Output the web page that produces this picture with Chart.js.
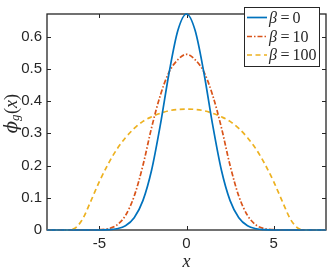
<!DOCTYPE html>
<html><head><meta charset="utf-8">
<style>html,body{margin:0;padding:0;background:#fff;overflow:hidden}#wrap{width:327px;height:273px;position:relative}</style>
<script src="https://cdn.jsdelivr.net/npm/chart.js@4"></script>
</head><body><div id="wrap"><canvas id="c" width="327" height="273"></canvas></div>
<script>
const xValues = [-8,-7.5,-7,-6.5,-6,-5.5,-5,-4.5,-4,-3.5,-3,-2.5,-2,-1.5,-1,-0.5,0,0.5,1,1.5,2,2.5,3,3.5,4,4.5,5,5.5,6,6.5,7,7.5,8];
const beta0 = [0,0,0,0,0,0,0,0.001,0.004,0.013,0.038,0.091,0.186,0.326,0.487,0.618,0.670,0.618,0.487,0.326,0.186,0.091,0.038,0.013,0.004,0.001,0,0,0,0,0,0,0];
const beta10 = [0,0,0,0,0,0,0.001,0.004,0.015,0.045,0.105,0.200,0.318,0.418,0.490,0.528,0.545,0.528,0.490,0.418,0.318,0.200,0.105,0.045,0.015,0.004,0.001,0,0,0,0,0,0];
const beta100 = [0,0,0,0.003,0.030,0.088,0.150,0.204,0.250,0.286,0.315,0.337,0.351,0.362,0.370,0.374,0.375,0.374,0.370,0.362,0.351,0.337,0.315,0.286,0.250,0.204,0.150,0.088,0.030,0.003,0,0,0];
const xTicks = [-5,0,5];
const yTicks = [0,0.1,0.2,0.3,0.4,0.5,0.6];
const betaLabels = ['0','10','100'];

const colors = ['#0072BD','#D95319','#EDB120'];
const dashes = [[],[5,2,1.5,2],[5,3.5]];
const series = [beta0,beta10,beta100];
const TXT = '#262626';

const datasets = series.map((s,k)=>({
  label: 'β = '+betaLabels[k],
  data: xValues.map((x,i)=>({x:x,y:s[i]})),
  borderColor: colors[k],
  borderWidth: 1.7,
  borderDash: dashes[k],
  pointRadius: 0,
  fill: false,
  cubicInterpolationMode: 'monotone',
  clip: false
}));

const deco = {
  id:'deco',
  beforeDatasetsDraw(chart){
    const {ctx, chartArea:a, scales:{x,y}} = chart;
    ctx.save();
    ctx.strokeStyle = TXT;
    ctx.lineWidth = 1;
    const tl = 4;
    ctx.beginPath();
    xTicks.forEach(v=>{
      const px = Math.round(x.getPixelForValue(v))+0.5;
      ctx.moveTo(px,a.bottom); ctx.lineTo(px,a.bottom-tl);
      ctx.moveTo(px,a.top); ctx.lineTo(px,a.top+tl);
    });
    yTicks.forEach(v=>{
      const py = Math.round(y.getPixelForValue(v))+0.5;
      ctx.moveTo(a.left,py); ctx.lineTo(a.left+tl,py);
      ctx.moveTo(a.right,py); ctx.lineTo(a.right-tl,py);
    });
    ctx.stroke();
    ctx.lineWidth = 1.3;
    ctx.strokeRect(a.left, a.top, a.right-a.left, a.bottom-a.top);
    ctx.restore();
  },
  afterDraw(chart){
    const {ctx, chartArea:a} = chart;
    ctx.save();
    // legend
    const lx=244.5, ly=7.5, lw=75, lh=59;
    ctx.fillStyle='#fff';
    ctx.fillRect(lx,ly,lw,lh);
    ctx.strokeStyle=TXT; ctx.lineWidth=1;
    ctx.strokeRect(lx,ly,lw,lh);
    const rows=[17.5,36.5,55];
    rows.forEach((ry,k)=>{
      ctx.beginPath();
      ctx.strokeStyle=colors[k]; ctx.lineWidth=1.7; ctx.setLineDash(dashes[k]);
      ctx.moveTo(247,ry); ctx.lineTo(267,ry); ctx.stroke();
      ctx.setLineDash([]);
      ctx.fillStyle=TXT; ctx.textBaseline='middle'; ctx.textAlign='left';
      ctx.font='italic 16px "Liberation Serif","DejaVu Serif"';
      ctx.fillText('β',269,ry+1);
      ctx.font='16px "Liberation Serif","DejaVu Serif"';
      ctx.fillText('=',280.5,ry+1);
      ctx.fillText(betaLabels[k],292.5,ry+1);
    });
    // x title
    ctx.fillStyle=TXT; ctx.textAlign='center'; ctx.textBaseline='middle';
    ctx.font='italic 18px "Liberation Serif","DejaVu Serif"';
    ctx.fillText('x',(a.left+a.right)/2,262);
    // y title
    ctx.translate(12,114);
    ctx.rotate(-Math.PI/2);
    const parts=[['ϕ','italic 18px "DejaVu Serif","Liberation Serif"',0],['g','italic 13px "Liberation Serif","DejaVu Serif"',4],['(','18px "Liberation Serif","DejaVu Serif"',0],['x','italic 18px "Liberation Serif","DejaVu Serif"',0],[')','18px "Liberation Serif","DejaVu Serif"',0]];
    let tot=0; const ws=[];
    parts.forEach(p=>{ctx.font=p[1]; const w=ctx.measureText(p[0]).width; ws.push(w); tot+=w;});
    let cx=-tot/2; ctx.textAlign='left';
    parts.forEach((p,i)=>{ctx.font=p[1]; ctx.fillText(p[0],cx,p[2]); cx+=ws[i]+(i===1?0.5:0);});
    ctx.restore();
  }
};

new Chart(document.getElementById('c'),{
  type:'line',
  data:{datasets:datasets},
  options:{
    responsive:false, animation:false, devicePixelRatio:1,
    layout:{padding:{top:1,right:1,left:0,bottom:0}},
    plugins:{legend:{display:false},tooltip:{enabled:false}},
    scales:{
      x:{type:'linear',min:-8,max:8,
        afterBuildTicks:s=>{s.ticks=xTicks.map(v=>({value:v}));},
        afterFit:s=>{s.height=43;},
        grid:{display:false,drawTicks:false},border:{display:false},
        ticks:{padding:5,color:TXT,autoSkip:false,maxRotation:0,font:{family:'"Liberation Sans", Arial',size:15},callback:v=>String(v)}},
      y:{type:'linear',min:0,max:0.67,
        afterBuildTicks:s=>{s.ticks=yTicks.map(v=>({value:v}));},
        afterFit:s=>{s.width=47;},
        grid:{display:false,drawTicks:false},border:{display:false},
        ticks:{padding:5,color:TXT,autoSkip:false,font:{family:'"Liberation Sans", Arial',size:15},callback:v=>String(Math.round(v*10)/10)}}
    }
  },
  plugins:[deco]
});
</script></body></html>
